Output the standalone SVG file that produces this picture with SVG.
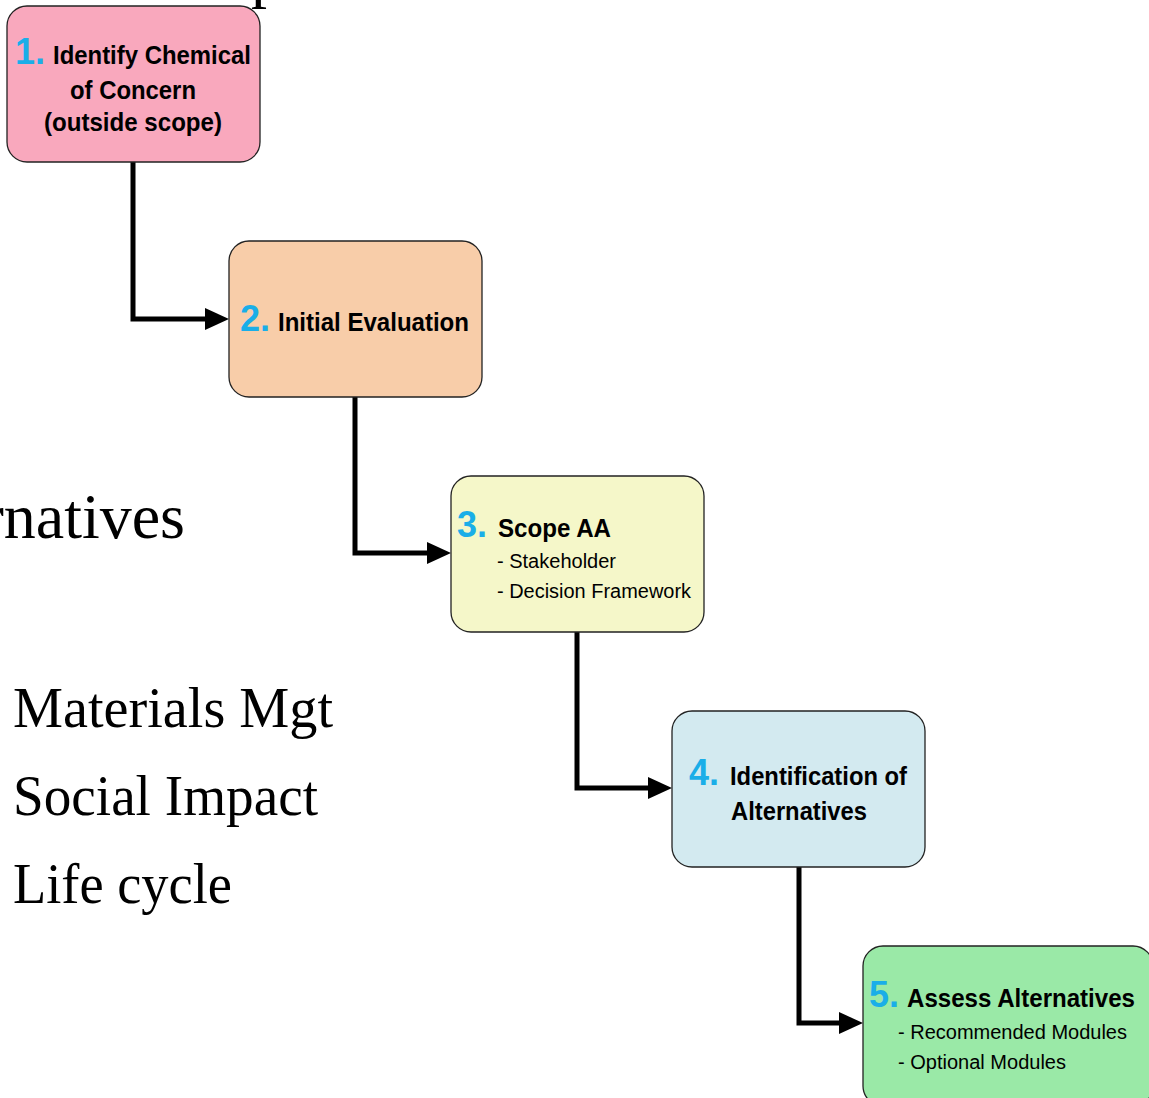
<svg xmlns="http://www.w3.org/2000/svg" width="1149" height="1098" viewBox="0 0 1149 1098">
<style>
.box{stroke:#222;stroke-width:1.3}
.num{font-family:"Liberation Sans",Arial,sans-serif;font-weight:bold;font-size:36px;fill:#1AAEE8}
.ttl{font-family:"Liberation Sans",Arial,sans-serif;font-weight:bold;font-size:25px;fill:#000}
.sub{font-family:"Liberation Sans",Arial,sans-serif;font-size:20px;fill:#000}
.bg{font-family:"Liberation Serif","Times New Roman",serif;fill:#000}
.conn{fill:none;stroke:#000;stroke-width:5;stroke-linejoin:miter}
</style>
<defs>
<marker id="arr" markerWidth="24" markerHeight="22" refX="17" refY="11" orient="auto" markerUnits="userSpaceOnUse">
<path d="M0,0 L24,11 L0,22 Z" fill="#000"/>
</marker>
</defs>
<rect width="1149" height="1098" fill="#fff"/>
<g id="background-text">
<text class="bg" x="251" y="-5" font-size="64">p</text>
<text class="bg" x="185" y="538" font-size="64" text-anchor="end">Alternatives</text>
<text class="bg" x="13" y="727" font-size="56" textLength="320" lengthAdjust="spacingAndGlyphs">Materials Mgt</text>
<text class="bg" x="13" y="815" font-size="56" textLength="305" lengthAdjust="spacingAndGlyphs">Social Impact</text>
<text class="bg" x="13" y="903" font-size="56" textLength="219" lengthAdjust="spacingAndGlyphs">Life cycle</text>
</g>
<g id="connectors">
<path class="conn" d="M133,162 V319 H222" marker-end="url(#arr)"/>
<path class="conn" d="M355,397 V553 H444" marker-end="url(#arr)"/>
<path class="conn" d="M577,632 V788 H665" marker-end="url(#arr)"/>
<path class="conn" d="M799,867 V1023 H856" marker-end="url(#arr)"/>
</g>
<g id="node1">
<rect class="box" x="7" y="6" width="253" height="156" rx="20" fill="#F9A8BD"/>
<text class="num" x="15" y="64">1.</text>
<text class="ttl" x="53" y="64" textLength="198" lengthAdjust="spacingAndGlyphs">Identify Chemical</text>
<text class="ttl" x="133" y="99" text-anchor="middle" textLength="126" lengthAdjust="spacingAndGlyphs">of Concern</text>
<text class="ttl" x="133" y="131" text-anchor="middle" textLength="178" lengthAdjust="spacingAndGlyphs">(outside scope)</text>
</g>
<g id="node2">
<rect class="box" x="229" y="241" width="253" height="156" rx="20" fill="#F8CDA9"/>
<text class="num" x="240" y="331">2.</text>
<text class="ttl" x="278" y="331" textLength="191" lengthAdjust="spacingAndGlyphs">Initial Evaluation</text>
</g>
<g id="node3">
<rect class="box" x="451" y="476" width="253" height="156" rx="20" fill="#F5F7C9"/>
<text class="num" x="457" y="537">3.</text>
<text class="ttl" x="498" y="537" textLength="113" lengthAdjust="spacingAndGlyphs">Scope AA</text>
<text class="sub" x="497" y="568" textLength="119" lengthAdjust="spacingAndGlyphs">- Stakeholder</text>
<text class="sub" x="497" y="598" textLength="194" lengthAdjust="spacingAndGlyphs">- Decision Framework</text>
</g>
<g id="node4">
<rect class="box" x="672" y="711" width="253" height="156" rx="20" fill="#D3EAF0"/>
<text class="num" x="689" y="785">4.</text>
<text class="ttl" x="730" y="785" textLength="177" lengthAdjust="spacingAndGlyphs">Identification of</text>
<text class="ttl" x="731" y="820" textLength="136" lengthAdjust="spacingAndGlyphs">Alternatives</text>
</g>
<g id="node5">
<rect class="box" x="863" y="946" width="290" height="160" rx="20" fill="#9AE9A7"/>
<text class="num" x="869" y="1007">5.</text>
<text class="ttl" x="907" y="1007" textLength="228" lengthAdjust="spacingAndGlyphs">Assess Alternatives</text>
<text class="sub" x="898" y="1039" textLength="229" lengthAdjust="spacingAndGlyphs">- Recommended Modules</text>
<text class="sub" x="898" y="1069" textLength="168" lengthAdjust="spacingAndGlyphs">- Optional Modules</text>
</g>
</svg>
